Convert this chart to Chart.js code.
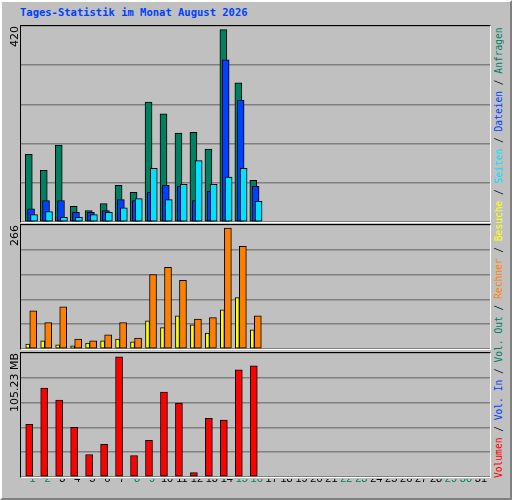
<!DOCTYPE html>
<html lang="de">
<head>
<meta charset="UTF-8">
<title>Tages-Statistik</title>
<script src="https://cdn.jsdelivr.net/npm/chart.js@4.4.0/dist/chart.umd.min.js"></script>
<style>
    * { margin: 0; padding: 0; box-sizing: border-box; }
    body { background: #c0c0c0; width: 512px; height: 500px; overflow: hidden; }
    .frame {
        position: absolute; left: 0; top: 0; width: 512px; height: 500px;
        background: #c0c0c0;
        border-top: 2px solid #ffffff; border-left: 2px solid #ffffff;
        border-right: 2px solid #808080; border-bottom: 2px solid #808080;
    }
    .title {
        position: absolute; left: 20px; top: 6px;
        font: bold 10.5px "DejaVu Sans Mono", monospace; color: #0040ff;
    }
    .panel {
        position: absolute; left: 20px; width: 471px;
        border-top: 1px solid #000; border-left: 1px solid #000;
        border-right: 1px solid #fff; border-bottom: 1px solid #fff;
    }
    .panel canvas { display: block; }
    .ylab {
        position: absolute; left: 8px; width: 14px;
        font: 11px "DejaVu Sans", sans-serif; color: #000;
        writing-mode: vertical-rl; transform: rotate(180deg);
        white-space: nowrap; text-align: end;
    }
    .legend {
        position: absolute; left: 493px; top: 25px; height: 453px;
        font: 9.6px "DejaVu Sans Mono", monospace;
        writing-mode: vertical-rl; transform: rotate(180deg);
        white-space: nowrap; text-align: left;
    }
</style>
</head>
<body>
<div class="frame"></div>
<div class="title">Tages-Statistik im Monat August 2026</div>

<div class="panel" style="top:25px; height:198px;"><canvas id="c1" width="469" height="196"></canvas></div>
<div class="panel" style="top:224px; height:126px;"><canvas id="c2" width="469" height="124"></canvas></div>
<div class="panel" style="top:352px; height:126px;"><canvas id="c3" width="469" height="124"></canvas></div>
<canvas id="cx" width="469" height="20" style="position:absolute; left:21px; top:479px;"></canvas>

<div class="ylab" style="top:26px; height:60px;">420</div>
<div class="ylab" style="top:225px; height:60px;">266</div>
<div class="ylab" style="top:353px; height:80px;">105.23 MB</div>

<div class="legend">
    <span style="color:#ff0000">Volumen</span> / <span style="color:#0040ff">Vol. In</span> / <span style="color:#008060">Vol. Out</span> / <span style="color:#ff8000">Rechner</span> / <span style="color:#ffff00">Besuche</span> / <span style="color:#00e0ff">Seiten</span> / <span style="color:#0040ff">Dateien</span> / <span style="color:#008060">Anfragen</span>
</div>

<script>
const days = Array.from({ length: 31 }, (_, i) => i + 1);
const weekendDays = [1, 2, 8, 9, 15, 16, 22, 23, 29, 30];

const hits   = [148, 113, 168, 34, 25, 40, 80, 65, 262, 236, 194, 196, 159, 420, 304, 91];
const files  = [29, 47, 47, 21, 21, 25, 49, 47, 65, 80, 78, 47, 67, 354, 266, 78];
const pages  = [16, 23, 10, 10, 16, 21, 31, 51, 117, 49, 82, 134, 82, 98, 117, 45];
const visits = [11, 18, 9, 7, 13, 18, 22, 16, 62, 47, 73, 53, 35, 86, 113, 42];
const sites  = [84, 58, 93, 22, 18, 31, 58, 24, 164, 180, 151, 66, 69, 266, 226, 73];
const volumeMB = [46.1, 77.9, 67.3, 43.5, 19.7, 28.5, 105.23, 18.8, 32.0, 74.4, 64.7, 3.8, 51.4, 49.7, 93.8, 97.3];

const X_MIN = 0.23, X_MAX = 31.56;

function points(values, shift) {
    return values.map((v, i) => ({ x: days[i] + shift, y: v }));
}

function barSet(values, shift, color, width) {
    return {
        data: points(values, shift),
        backgroundColor: color,
        borderColor: '#000',
        borderWidth: 1,
        borderSkipped: false,
        barThickness: width,
        grouped: false
    };
}

function panel(id, datasets, yMax) {
    new Chart(document.getElementById(id), {
        type: 'bar',
        data: { datasets: datasets },
        options: {
            responsive: false,
            animation: false,
            layout: { padding: 0 },
            plugins: { legend: { display: false }, tooltip: { enabled: false } },
            scales: {
                x: { type: 'linear', min: X_MIN, max: X_MAX, offset: false, display: false },
                y: {
                    min: 0, max: yMax,
                    ticks: { display: false, stepSize: yMax / 5 },
                    grid: { color: '#808080', lineWidth: 1.5, drawTicks: false },
                    border: { display: false }
                }
            }
        }
    });
}

// cyan first so it is drawn on top
panel('c1', [
    barSet(pages, 0.1, '#00e0ff', 7),
    barSet(files, -0.1, '#0040ff', 7),
    barSet(hits, -0.25, '#008060', 7)
], 428);

panel('c2', [
    barSet(sites, 0.05, '#ff8000', 7),
    barSet(visits, -0.32, '#ffff00', 4)
], 273);

panel('c3', [
    barSet(volumeMB, -0.22, '#ff0000', 7)
], 108.5);

// day labels
new Chart(document.getElementById('cx'), {
    type: 'scatter',
    data: { datasets: [{ data: [] }] },
    options: {
        responsive: false,
        animation: false,
        layout: { padding: 0 },
        plugins: { legend: { display: false }, tooltip: { enabled: false } },
        scales: {
            x: {
                type: 'linear', min: X_MIN, max: X_MAX, offset: false, position: 'top',
                afterBuildTicks: s => { s.ticks = days.map(d => ({ value: d })); },
                ticks: {
                    autoSkip: false, maxRotation: 0, padding: 3,
                    font: { family: 'Liberation Sans', size: 11 },
                    color: c => weekendDays.includes(c.tick.value) ? '#008060' : '#000',
                    callback: v => String(v)
                },
                grid: { display: false, drawTicks: false },
                border: { display: false }
            },
            y: { display: false }
        }
    }
});
</script>
</body>
</html>
